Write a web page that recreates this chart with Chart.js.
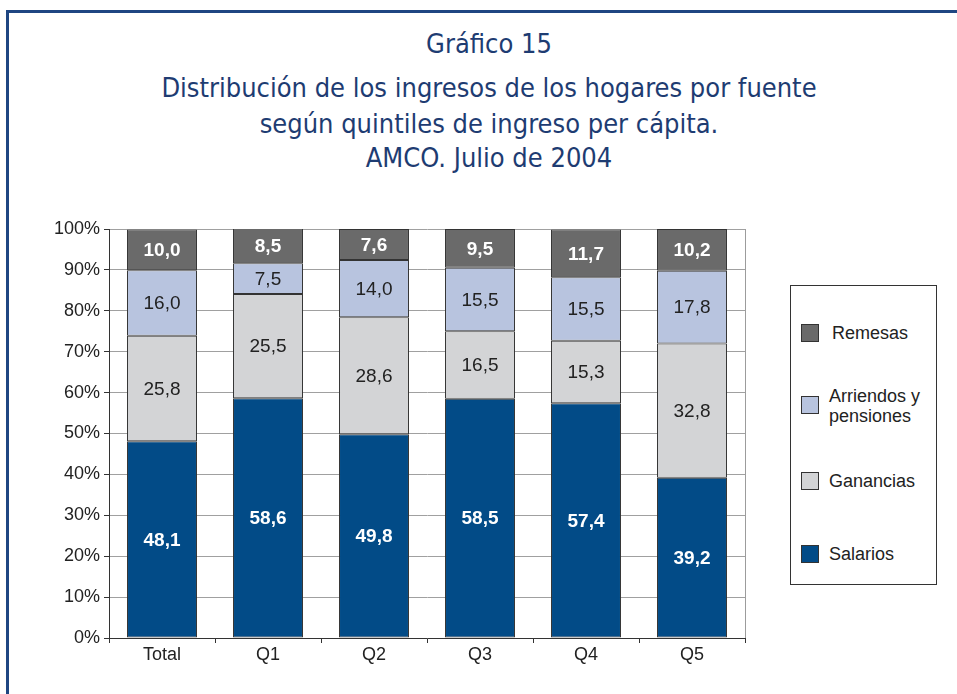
<!DOCTYPE html>
<html>
<head>
<meta charset="utf-8">
<script src="https://cdn.jsdelivr.net/npm/chart.js@4/dist/chart.umd.min.js"></script>
<style>
  html, body { margin: 0; padding: 0; background: #fff; }
  body { width: 957px; height: 694px; position: relative; overflow: hidden; }
  #frame { position: absolute; left: 6px; top: 10px; width: 1000px; height: 800px;
           border-left: 3px solid #1F4682; border-top: 3px solid #1F4682; }
  .t { position: absolute; left: 0; width: 978px; text-align: center; color: #1E3C72;
       font-family: "Liberation Sans Narrow", "DejaVu Sans Condensed", sans-serif; font-size: 27px; white-space: nowrap; }
  #wrap { position: absolute; left: 0; top: 200px; width: 760px; height: 494px; }
  #legend { position: absolute; left: 790px; top: 285px; width: 145px; height: 298px;
            border: 1px solid #333; font-family: "Liberation Sans", Arial, sans-serif; font-size: 18px; color: #222; }
  .li { position: absolute; left: 10px; }
  .sw { position: absolute; left: 0; width: 16px; height: 16px; border: 1px solid #333; }
  .lt { position: absolute; left: 28px; line-height: 20px; white-space: nowrap; }
</style>
</head>
<body>
<div id="frame"></div>
<div class="t" style="top:28px;">Gráfico 15</div>
<div class="t" style="top:72px;">Distribución de los ingresos de los hogares por fuente</div>
<div class="t" style="top:108px;">según quintiles de ingreso per cápita.</div>
<div class="t" style="top:142px;">AMCO. Julio de 2004</div>
<div id="wrap"><canvas id="c" width="760" height="494"></canvas></div>
<div id="legend"></div>
<script>
const categories = ["Total", "Q1", "Q2", "Q3", "Q4", "Q5"];
const salarios   = [48.1, 58.6, 49.8, 58.5, 57.4, 39.2];
const ganancias  = [25.8, 25.5, 28.6, 16.5, 15.3, 32.8];
const arriendos  = [16.0, 7.5, 14.0, 15.5, 15.5, 17.8];
const remesas    = [10.0, 8.5, 7.6, 9.5, 11.7, 10.2];
const seriesNames = ["Salarios", "Ganancias", "Arriendos y pensiones", "Remesas"];
const yTicks = [0, 10, 20, 30, 40, 50, 60, 70, 80, 90, 100];

const colors = ["#024B87", "#D3D4D6", "#B8C4DF", "#6A6A6A"];
const labelStyle = [
  { color: "#fff", font: "bold 19px 'Liberation Sans', Arial, sans-serif" },
  { color: "#222", font: "19px 'Liberation Sans', Arial, sans-serif" },
  { color: "#222", font: "19px 'Liberation Sans', Arial, sans-serif" },
  { color: "#fff", font: "bold 19px 'Liberation Sans', Arial, sans-serif" }
];

const valueLabels = {
  id: "valueLabels",
  afterDatasetsDraw(chart) {
    const ctx = chart.ctx;
    chart.data.datasets.forEach((ds, i) => {
      const meta = chart.getDatasetMeta(i);
      meta.data.forEach((el, j) => {
        const v = ds.data[j];
        const top = Math.max(el.y, chart.chartArea.top);
        const cy = (top + el.base) / 2;
        ctx.save();
        ctx.fillStyle = labelStyle[i].color;
        ctx.font = labelStyle[i].font;
        ctx.textAlign = "center";
        ctx.textBaseline = "middle";
        ctx.fillText(v.toFixed(1).replace(".", ","), el.x, cy + 1);
        ctx.restore();
      });
    });
  }
};

const rightBorder = {
  id: "rightBorder",
  beforeDatasetsDraw(chart) {
    const { ctx, chartArea } = chart;
    ctx.save();
    ctx.strokeStyle = "#9C9C9C";
    ctx.lineWidth = 1;
    ctx.beginPath();
    ctx.moveTo(Math.round(chartArea.right) + 0.5, chartArea.top);
    ctx.lineTo(Math.round(chartArea.right) + 0.5, chartArea.bottom);
    ctx.stroke();
    ctx.restore();
  }
};

const seriesData = [salarios, ganancias, arriendos, remesas];
const chart = new Chart(document.getElementById("c"), {
  type: "bar",
  data: {
    labels: categories,
    datasets: seriesData.map((d, i) => ({
      label: seriesNames[i],
      data: d,
      backgroundColor: colors[i],
      borderColor: "#333",
      borderWidth: 1,
      borderSkipped: false,
      barPercentage: 0.66,
      categoryPercentage: 1.0
    }))
  },
  options: {
    responsive: false,
    animation: false,
    events: [],
    layout: { padding: { left: 0, right: 15, top: 29, bottom: 0 } },
    plugins: { legend: { display: false }, tooltip: { enabled: false }, title: { display: false } },
    scales: {
      x: {
        stacked: true,
        afterFit(scale) { scale.height = 56; },
        grid: { display: true, offset: true, drawOnChartArea: false, tickLength: 5, color: "#333" },
        border: { color: "#333", width: 1 },
        ticks: { color: "#222", font: { family: "'Liberation Sans', Arial, sans-serif", size: 18 }, padding: 1 }
      },
      y: {
        stacked: true,
        min: 0, max: 100,
        afterFit(scale) { scale.width = 109; },
        afterBuildTicks(scale) { scale.ticks = yTicks.map(v => ({ value: v })); },
        grid: { color: "#A0A0A0", tickLength: 5, tickColor: "#333" },
        border: { color: "#333", width: 1 },
        ticks: {
          color: "#222",
          font: { family: "'Liberation Sans', Arial, sans-serif", size: 18 },
          padding: 4,
          callback: v => v + "%"
        }
      }
    }
  },
  plugins: [rightBorder, valueLabels]
});

// HTML legend built from the chart's datasets (top series first)
const legend = document.getElementById("legend");
const legendTops = [38, 110, 186, 259];
chart.data.datasets.slice().reverse().forEach((ds, k) => {
  const item = document.createElement("div");
  item.className = "li";
  item.style.top = legendTops[k] + "px";
  const sw = document.createElement("div");
  sw.className = "sw";
  sw.style.background = ds.backgroundColor;
  const lt = document.createElement("div");
  lt.className = "lt";
  const parts = ds.label === "Arriendos y pensiones" ? ["Arriendos y", "pensiones"] : [ds.label];
  lt.innerHTML = parts.join("<br>");
  lt.style.top = parts.length > 1 ? "-10px" : "-1px";
  if (ds.label === "Remesas") lt.style.left = "31px";
  item.appendChild(sw);
  item.appendChild(lt);
  legend.appendChild(item);
});
</script>
</body>
</html>
